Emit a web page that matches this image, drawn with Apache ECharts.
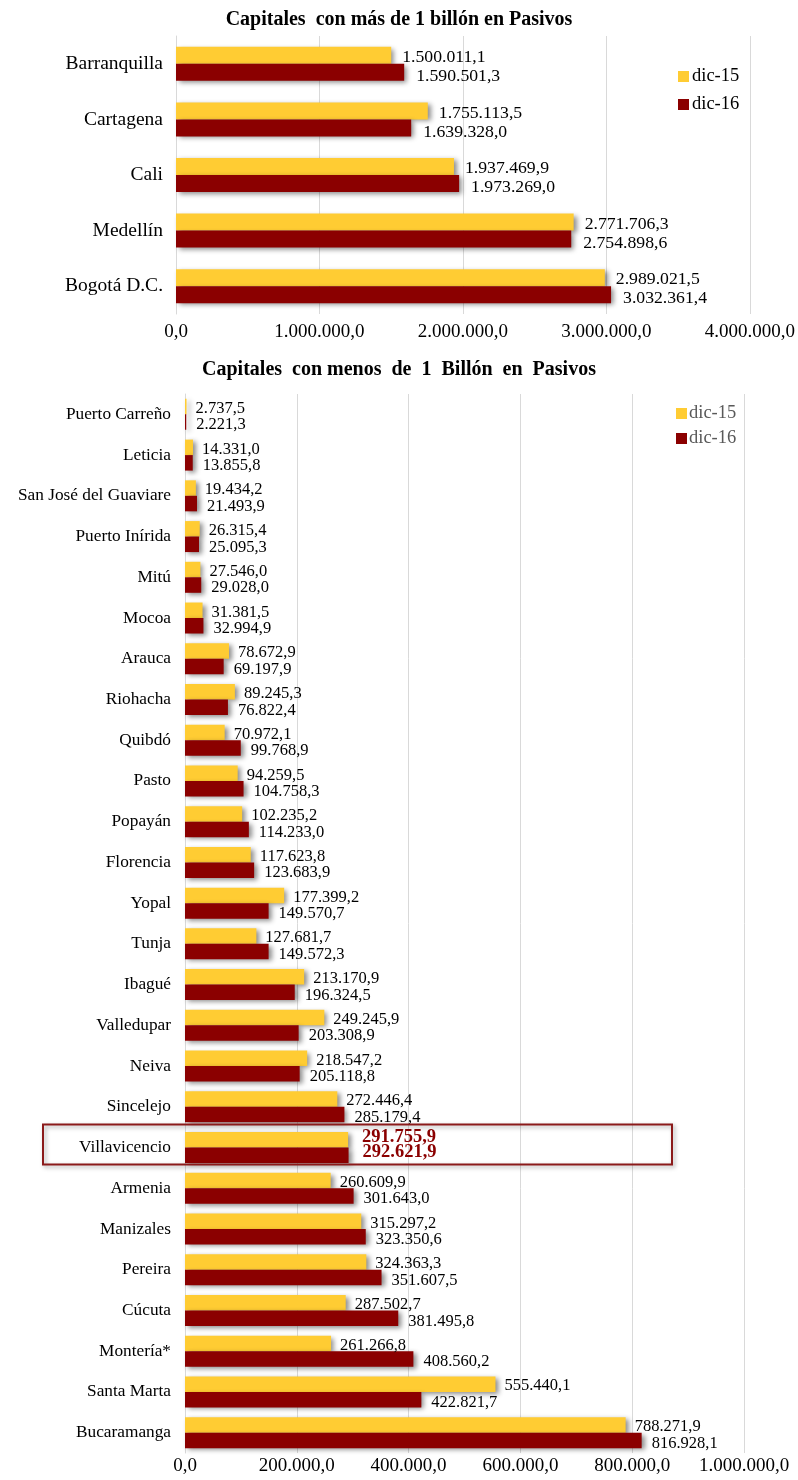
<!DOCTYPE html>
<html>
<head>
<meta charset="utf-8">
<script src="https://cdn.jsdelivr.net/npm/echarts@6/dist/echarts.min.js"></script>
<style>
html,body{margin:0;padding:0;background:#fff;}
#c{width:798px;height:1480px;}
</style>
</head>
<body>
<div id="c"></div>
<script>
// ---- Data ----
const titleTop = 'Capitales  con más de 1 billón en Pasivos';
const titleBottom = 'Capitales  con menos  de  1  Billón  en  Pasivos';
const seriesNames = ['dic-15', 'dic-16'];

const topCities = ['Barranquilla', 'Cartagena', 'Cali', 'Medellín', 'Bogotá D.C.'];
const topDic15 = [1500011.1, 1755113.5, 1937469.9, 2771706.3, 2989021.5];
const topDic16 = [1590501.3, 1639328.0, 1973269.0, 2754898.6, 3032361.4];

const botCities = ['Puerto Carreño', 'Leticia', 'San José del Guaviare', 'Puerto Inírida', 'Mitú', 'Mocoa',
  'Arauca', 'Riohacha', 'Quibdó', 'Pasto', 'Popayán', 'Florencia', 'Yopal', 'Tunja', 'Ibagué',
  'Valledupar', 'Neiva', 'Sincelejo', 'Villavicencio', 'Armenia', 'Manizales', 'Pereira', 'Cúcuta',
  'Montería*', 'Santa Marta', 'Bucaramanga'];
const botDic15 = [2737.5, 14331.0, 19434.2, 26315.4, 27546.0, 31381.5, 78672.9, 89245.3, 70972.1,
  94259.5, 102235.2, 117623.8, 177399.2, 127681.7, 213170.9, 249245.9, 218547.2, 272446.4,
  291755.9, 260609.9, 315297.2, 324363.3, 287502.7, 261266.8, 555440.1, 788271.9];
const botDic16 = [2221.3, 13855.8, 21493.9, 25095.3, 29028.0, 32994.9, 69197.9, 76822.4, 99768.9,
  104758.3, 114233.0, 123683.9, 149570.7, 149572.3, 196324.5, 203308.9, 205118.8, 285179.4,
  292621.9, 301643.0, 323350.6, 351607.5, 381495.8, 408560.2, 422821.7, 816928.1];

const topTicks = {min: 0, max: 4000000, interval: 1000000};
const botTicks = {min: 0, max: 1000000, interval: 200000};
const highlightCity = 'Villavicencio';

// ---- Helpers ----
function fmt(v) {
  const s = Number(v).toFixed(1);
  const parts = s.split('.');
  const intPart = parts[0].replace(/\B(?=(\d{3})+(?!\d))/g, '.');
  return intPart + ',' + parts[1];
}
const FONT = '"Liberation Serif", "Times New Roman", serif';
const YELLOW = '#FFCC33';
const RED = '#8B0000';
const shadow = {shadowColor: 'rgba(0,0,0,0.45)', shadowBlur: 5, shadowOffsetX: 3, shadowOffsetY: 2};

function makeData(values, cities) {
  return values.map((v, i) => {
    if (cities[i] === highlightCity) {
      return {value: v, label: {color: RED, fontWeight: 'bold', fontSize: 18.5, distance: 14, offset: [0, -3]}};
    }
    return v;
  });
}

function barSeries(name, values, cities, idx, color, barWidth, labelSize, dist, offY) {
  return {
    name: name, type: 'bar', xAxisIndex: idx, yAxisIndex: idx,
    data: makeData(values, cities),
    barWidth: barWidth, barGap: '0%',
    itemStyle: Object.assign({color: color}, shadow),
    label: {
      show: true, position: 'right', distance: dist, offset: [0, offY],
      formatter: p => fmt(p.value), fontFamily: FONT, fontSize: labelSize, color: '#000'
    },
    emphasis: {disabled: true},
    animation: false
  };
}

const chart = echarts.init(document.getElementById('c'));
const option = {
  backgroundColor: '#fff',
  animation: false,
  title: [
    {text: titleTop, left: 'center', top: 5, textStyle: {fontFamily: FONT, fontSize: 20, fontWeight: 'bold', color: '#000'}},
    {text: titleBottom, left: 'center', top: 355, textStyle: {fontFamily: FONT, fontSize: 20, fontWeight: 'bold', color: '#000'}}
  ],
  legend: [
    {data: seriesNames, orient: 'vertical', left: 673, top: 62, itemWidth: 11, itemHeight: 11, itemGap: 9,
      icon: 'rect', textStyle: {fontFamily: FONT, fontSize: 18.5, color: '#000', padding: [0, 0, 0, -2]}, itemStyle: {shadowBlur: 0, shadowOffsetX: 0, shadowOffsetY: 0}},
    {data: seriesNames, orient: 'vertical', left: 671, top: 399, itemWidth: 11, itemHeight: 11, itemGap: 6,
      icon: 'rect', textStyle: {fontFamily: FONT, fontSize: 18.5, color: '#595959', padding: [0, 0, 0, -3]}, itemStyle: {shadowBlur: 0, shadowOffsetX: 0, shadowOffsetY: 0}}
  ],
  grid: [
    {left: 176, top: 36, width: 574, height: 278},
    {left: 185, top: 394, width: 559, height: 1059}
  ],
  xAxis: [
    {type: 'value', gridIndex: 0, min: topTicks.min, max: topTicks.max, interval: topTicks.interval,
      axisLine: {show: false}, axisTick: {show: false},
      splitLine: {lineStyle: {color: '#d9d9d9', width: 1}},
      axisLabel: {formatter: v => fmt(v), fontFamily: FONT, fontSize: 19, color: '#000', margin: 9}},
    {type: 'value', gridIndex: 1, min: botTicks.min, max: botTicks.max, interval: botTicks.interval,
      axisLine: {show: false}, axisTick: {show: false},
      splitLine: {lineStyle: {color: '#d9d9d9', width: 1}},
      axisLabel: {formatter: v => fmt(v), fontFamily: FONT, fontSize: 19, color: '#000', margin: 4}}
  ],
  yAxis: [
    {type: 'category', gridIndex: 0, data: topCities, inverse: true,
      axisLine: {show: true, lineStyle: {color: '#d9d9d9'}}, axisTick: {show: false},
      axisLabel: {fontFamily: FONT, fontSize: 19.5, color: '#000', margin: 13}},
    {type: 'category', gridIndex: 1, data: botCities, inverse: true,
      axisLine: {show: true, lineStyle: {color: '#d9d9d9'}}, axisTick: {show: false},
      axisLabel: {fontFamily: FONT, fontSize: 17.3, color: '#000', margin: 14}}
  ],
  series: [
    barSeries(seriesNames[0], topDic15, topCities, 0, YELLOW, 17, 17.7, 11, 2),
    barSeries(seriesNames[1], topDic16, topCities, 0, RED, 17, 17.7, 12, 4),
    barSeries(seriesNames[0], botDic15, botCities, 1, YELLOW, 15.5, 16.5, 9, 2),
    barSeries(seriesNames[1], botDic16, botCities, 1, RED, 15.5, 16.5, 10, 3)
  ]
};
chart.setOption(option);

// Highlight box around the selected city (derived from the axis scale)
const cy = chart.convertToPixel({yAxisIndex: 1}, highlightCity);
chart.setOption({
  graphic: [{
    type: 'rect',
    shape: {x: 43, y: cy - 23, width: 629, height: 40},
    style: {fill: 'none', stroke: '#8B1A1A', lineWidth: 2, shadowColor: 'rgba(0,0,0,0.35)', shadowBlur: 4, shadowOffsetX: 2, shadowOffsetY: 2},
    z: 100, silent: true
  }]
});
</script>
</body>
</html>
